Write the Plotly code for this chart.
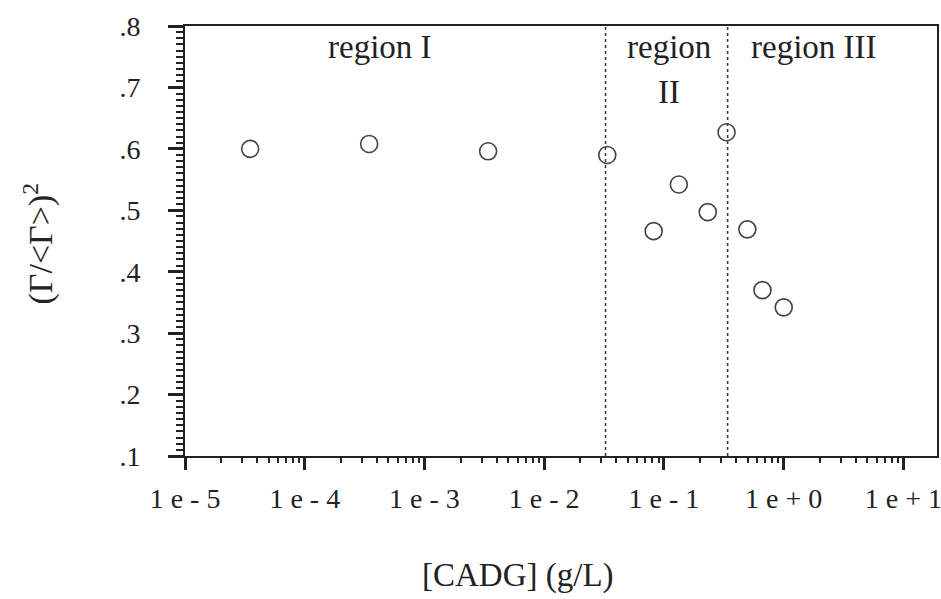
import plotly.graph_objects as go

# data
cadg = [3.5e-5, 3.45e-4, 3.4e-3, 0.0336, 0.082, 0.133, 0.232, 0.333, 0.497, 0.664, 1.0]
ratio = [0.600, 0.608, 0.596, 0.590, 0.466, 0.542, 0.497, 0.627, 0.469, 0.370, 0.342]
region_bounds = [0.0325, 0.34]
x_tickvals = [1e-5, 1e-4, 1e-3, 1e-2, 1e-1, 1e0, 1e1]
x_ticktext = ["1 e - 5", "1 e - 4", "1 e - 3", "1 e - 2", "1 e - 1", "1 e + 0", "1 e + 1"]
y_tickvals = [0.1, 0.2, 0.3, 0.4, 0.5, 0.6, 0.7, 0.8]
y_ticktext = [".1", ".2", ".3", ".4", ".5", ".6", ".7", ".8"]

FONT = "Liberation Serif"
INK = "#222222"

fig = go.Figure()

for b in region_bounds:
    fig.add_trace(go.Scatter(
        x=[b, b], y=[0.1, 0.8], mode="lines",
        line=dict(color="#333333", width=1.5, dash="dot"),
        hoverinfo="skip", showlegend=False))

fig.add_trace(go.Scatter(
    x=cadg, y=ratio, mode="markers",
    marker=dict(symbol="circle-open", size=17, color="#444444",
                line=dict(width=1.6, color="#444444")),
    showlegend=False))

fig.update_xaxes(
    type="log", range=[-5, 1.28],
    tickvals=x_tickvals, ticktext=x_ticktext,
    ticks="outside", ticklen=12, tickwidth=3, tickcolor=INK,
    minor=dict(ticks="outside", ticklen=5, tickwidth=1.5, tickcolor=INK, dtick="D1", showgrid=False),
    showline=True, linecolor=INK, linewidth=1.5, mirror=True,
    showgrid=False, zeroline=False, automargin=False,
    ticklabeloverflow="allow",
    tickfont=dict(family=FONT, size=28, color=INK),
    ticklabelstandoff=5,
)
fig.update_yaxes(
    range=[0.1, 0.8],
    tickvals=y_tickvals, ticktext=y_ticktext,
    ticks="outside", ticklen=15, tickwidth=3, tickcolor=INK,
    minor=dict(ticks="outside", ticklen=7, tickwidth=1.5, tickcolor=INK, dtick=0.01, showgrid=False),
    showline=True, linecolor=INK, linewidth=2, mirror=True,
    showgrid=False, zeroline=False, automargin=False,
    tickfont=dict(family=FONT, size=28, color=INK),
    ticklabelstandoff=22,
)

annotations = [
    dict(text="region I", x=0.259, y=0.951, size=33),
    dict(text="region", x=0.643, y=0.951, size=33),
    dict(text="II", x=0.643, y=0.847, size=33),
    dict(text="region III", x=0.836, y=0.951, size=33),
    dict(text="[CADG] (g/L)", x=0.443, y=-0.277, size=33),
    dict(text="(Γ/&lt;Γ&gt;)<sup>2</sup>", x=-0.195, y=0.495, textangle=-90, size=34),
]
for a in annotations:
    size = a.pop("size")
    fig.add_annotation(xref="paper", yref="paper", showarrow=False,
                       xanchor="center", yanchor="middle",
                       font=dict(family=FONT, size=size, color=INK), **a)

fig.update_layout(
    width=941, height=599,
    margin=dict(l=185, r=4, t=26, b=143, autoexpand=False),
    paper_bgcolor="white", plot_bgcolor="white",
    font=dict(family=FONT, color=INK),
)

# remove the page's default body margin so the 941x599 figure fills the window exactly
fig.write_html(
    "out.html",
    config={"displayModeBar": False},
    post_script="document.body.style.margin='0px';document.body.style.overflow='hidden';",
)
